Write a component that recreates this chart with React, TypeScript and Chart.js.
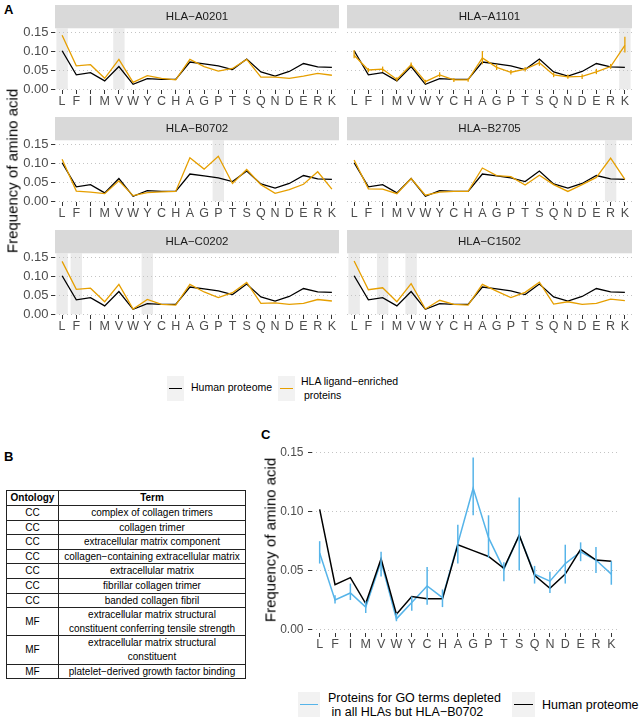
import React, { useEffect, useRef } from "react";
import { Chart, registerables } from "chart.js";

Chart.register(...registerables);

const FONT = "'Liberation Sans', Arial, Helvetica, sans-serif";
Chart.defaults.font.family = FONT;

// ---------- DATA ----------
const aminoAcids = ["L", "F", "I", "M", "V", "W", "Y", "C", "H", "A", "G", "P", "T", "S", "Q", "N", "D", "E", "R", "K"];
const yTickValues = [0, 0.05, 0.1, 0.15];

const humanProteome = [0.102, 0.038, 0.044, 0.022, 0.060, 0.013, 0.028, 0.026, 0.026, 0.072, 0.067, 0.062, 0.052, 0.080, 0.046, 0.035, 0.047, 0.068, 0.059, 0.058];

const alleleNames = ["HLA−A0201", "HLA−A1101", "HLA−B0702", "HLA−B2705", "HLA−C0202", "HLA−C1502"];

const enrichedA0201 = [0.143, 0.062, 0.065, 0.029, 0.079, 0.018, 0.036, 0.029, 0.025, 0.079, 0.060, 0.048, 0.055, 0.079, 0.032, 0.032, 0.029, 0.035, 0.042, 0.037];
const enrichedA1101 = [0.090, 0.051, 0.053, 0.026, 0.065, 0.020, 0.038, 0.025, 0.025, 0.083, 0.058, 0.045, 0.053, 0.070, 0.038, 0.033, 0.034, 0.046, 0.060, 0.116];
const enrichedA1101Low = [0.082, 0.045, 0.046, 0.021, 0.060, 0.015, 0.032, 0.019, 0.020, 0.066, 0.051, 0.039, 0.047, 0.062, 0.032, 0.028, 0.027, 0.040, 0.054, 0.097];
const enrichedA1101High = [0.103, 0.056, 0.060, 0.032, 0.071, 0.025, 0.045, 0.030, 0.029, 0.101, 0.066, 0.051, 0.059, 0.077, 0.044, 0.039, 0.040, 0.054, 0.067, 0.139];
const enrichedB0702 = [0.111, 0.027, 0.024, 0.020, 0.054, 0.015, 0.023, 0.025, 0.026, 0.115, 0.085, 0.119, 0.047, 0.084, 0.044, 0.021, 0.031, 0.045, 0.078, 0.032];
const enrichedB2705 = [0.109, 0.033, 0.032, 0.020, 0.060, 0.016, 0.024, 0.026, 0.026, 0.088, 0.068, 0.065, 0.043, 0.069, 0.044, 0.026, 0.044, 0.063, 0.114, 0.058];
const enrichedC0202 = [0.140, 0.066, 0.069, 0.033, 0.079, 0.014, 0.039, 0.026, 0.024, 0.079, 0.059, 0.044, 0.057, 0.084, 0.029, 0.030, 0.026, 0.029, 0.039, 0.035];
const enrichedC1502 = [0.141, 0.065, 0.070, 0.033, 0.081, 0.014, 0.037, 0.026, 0.024, 0.079, 0.061, 0.044, 0.058, 0.085, 0.027, 0.033, 0.026, 0.029, 0.040, 0.036];

const highlightA0201 = ["L", "V"];
const highlightA1101 = ["K"];
const highlightB0702 = ["P"];
const highlightB2705 = ["R"];
const highlightC0202 = ["L", "F", "Y"];
const highlightC1502 = ["L", "I", "V"];

const goDepleted = [0.065, 0.025, 0.031, 0.019, 0.058, 0.009, 0.023, 0.037, 0.027, 0.073, 0.120, 0.078, 0.051, 0.080, 0.047, 0.041, 0.056, 0.066, 0.059, 0.047];
const goDepletedLow = [0.056, 0.022, 0.025, 0.014, 0.045, 0.007, 0.016, 0.021, 0.019, 0.056, 0.097, 0.061, 0.041, 0.050, 0.039, 0.031, 0.039, 0.058, 0.048, 0.038];
const goDepletedHigh = [0.075, 0.029, 0.039, 0.024, 0.066, 0.014, 0.028, 0.053, 0.034, 0.089, 0.146, 0.097, 0.057, 0.112, 0.054, 0.049, 0.072, 0.074, 0.070, 0.058];

const tableOntology = ["CC", "CC", "CC", "CC", "CC", "CC", "CC", "MF", "MF", "MF"];
const tableTerms = [
  "complex of collagen trimers",
  "collagen trimer",
  "extracellular matrix component",
  "collagen−containing extracellular matrix",
  "extracellular matrix",
  "fibrillar collagen trimer",
  "banded collagen fibril",
  "extracellular matrix structural\nconstituent conferring tensile strength",
  "extracellular matrix structural\nconstituent",
  "platelet−derived growth factor binding",
];

// ---------- STYLE ----------
const ORANGE = "#E69F00";
const BLUE = "#56B4E9";
const STRIP_H = 23.3;

function bandPlugin(bands: string[]) {
  return {
    id: "bands",
    beforeDraw(chart: any) {
      const { ctx, chartArea, scales } = chart;
      const xs = scales.x;
      const ys = scales.y;
      const w = (xs.getPixelForValue(1) - xs.getPixelForValue(0)) * 0.8;
      const bottom = ys.getPixelForValue(0);
      ctx.save();
      ctx.fillStyle = "#EBEBEB";
      bands.forEach((b) => {
        const i = aminoAcids.indexOf(b);
        const cx = xs.getPixelForValue(i);
        ctx.fillRect(cx - w / 2, chartArea.top, w, bottom - chartArea.top);
      });
      ctx.restore();
    },
  };
}

function stripPlugin(label: string) {
  return {
    id: "strip",
    beforeDraw(chart: any) {
      const { ctx, chartArea } = chart;
      ctx.save();
      ctx.fillStyle = "#D9D9D9";
      ctx.fillRect(chartArea.left, chartArea.top - STRIP_H, chartArea.right - chartArea.left, STRIP_H);
      ctx.fillStyle = "#1A1A1A";
      ctx.font = `11.5px ${FONT}`;
      ctx.textAlign = "center";
      ctx.textBaseline = "middle";
      ctx.fillText(label, (chartArea.left + chartArea.right) / 2, chartArea.top - STRIP_H / 2 + 0.5);
      ctx.restore();
    },
  };
}

function errorBarPlugin(low: number[] | null, high: number[] | null, color: string, width: number) {
  return {
    id: "errbars",
    afterDatasetsDraw(chart: any) {
      if (!low || !high) return;
      const { ctx, scales } = chart;
      ctx.save();
      ctx.strokeStyle = color;
      ctx.lineWidth = width;
      low.forEach((lo, i) => {
        const x = scales.x.getPixelForValue(i);
        ctx.beginPath();
        ctx.moveTo(x, scales.y.getPixelForValue(lo));
        ctx.lineTo(x, scales.y.getPixelForValue(high[i]));
        ctx.stroke();
      });
      ctx.restore();
    },
  };
}

function baseScales(opts: {
  yMin: number; yMax: number; yWidth: number; showY: boolean; xHeight: number;
  yFont: number; yPad: number;
}) {
  return {
    x: {
      type: "category",
      offset: true,
      grid: { display: true, drawOnChartArea: false, drawTicks: true, tickLength: 4, tickColor: "#333333", tickWidth: 1 },
      border: { display: false },
      ticks: { color: "#4D4D4D", font: { size: 12.5 }, padding: 0, maxRotation: 0, minRotation: 0, autoSkip: false },
      afterFit: (s: any) => { s.height = opts.xHeight; s.paddingLeft = 0; s.paddingRight = 0; },
    },
    y: {
      type: "linear",
      min: opts.yMin,
      max: opts.yMax,
      grid: { color: "#C4C4C4", lineWidth: 1, drawTicks: opts.showY, tickLength: 4, tickColor: "#333333", tickWidth: 1, tickBorderDash: [] },
      border: { display: false, dash: [1, 3] },
      ticks: { display: opts.showY, color: "#4D4D4D", font: { size: opts.yFont }, padding: opts.yPad, callback: (v: any) => Number(v).toFixed(2) },
      afterBuildTicks: (s: any) => { s.ticks = yTickValues.map((v) => ({ value: v })); },
      afterFit: (s: any) => { s.width = opts.yWidth; s.paddingTop = 0; s.paddingBottom = 0; },
    },
  };
}

function facetConfig(label: string, series: number[], bands: string[], showY: boolean, low: number[] | null, high: number[] | null) {
  return {
    type: "line",
    data: {
      labels: aminoAcids,
      datasets: [
        { label: "HLA ligand-enriched proteins", data: series, borderColor: ORANGE, borderWidth: 1.3, pointRadius: 0, tension: 0, fill: false },
        { label: "Human proteome", data: humanProteome, borderColor: "#000000", borderWidth: 1.3, pointRadius: 0, tension: 0, fill: false },
      ],
    },
    options: {
      animation: false,
      responsive: false,
      events: [],
      layout: { padding: { top: STRIP_H, right: 1, left: 0, bottom: 0 } },
      plugins: { legend: { display: false }, tooltip: { enabled: false }, title: { display: false } },
      scales: baseScales({ yMin: -0.002, yMax: 0.1613, yWidth: showY ? 55 : 0, showY, xHeight: 22, yFont: 13, yPad: 2.5 }),
    },
    plugins: [bandPlugin(bands), stripPlugin(label), errorBarPlugin(low, high, ORANGE, 1.3)],
  };
}

function cConfig() {
  return {
    type: "line",
    data: {
      labels: aminoAcids,
      datasets: [
        { label: "Human proteome", data: humanProteome, borderColor: "#000000", borderWidth: 1.5, pointRadius: 0, tension: 0, fill: false },
        { label: "Proteins for GO terms depleted in all HLAs but HLA−B0702", data: goDepleted, borderColor: BLUE, borderWidth: 1.5, pointRadius: 0, tension: 0, fill: false },
      ],
    },
    options: {
      animation: false,
      responsive: false,
      events: [],
      layout: { padding: { top: 7, right: 1, left: 0, bottom: 0 } },
      plugins: { legend: { display: false }, tooltip: { enabled: false }, title: { display: false } },
      scales: baseScales({ yMin: -0.003, yMax: 0.155, yWidth: 50, showY: true, xHeight: 22, yFont: 12, yPad: 4.5 }),
    },
    plugins: [errorBarPlugin(goDepletedLow, goDepletedHigh, BLUE, 1.5)],
  };
}

function ChartCanvas(props: { left: number; top: number; width: number; height: number; build: () => any }) {
  const ref = useRef<HTMLCanvasElement>(null);
  useEffect(() => {
    const chart = new Chart(ref.current as HTMLCanvasElement, props.build());
    return () => chart.destroy();
  }, []);
  return (
    <canvas
      ref={ref}
      width={props.width}
      height={props.height}
      style={{ position: "absolute", left: props.left, top: props.top, width: props.width, height: props.height }}
    />
  );
}

function LegendKey(props: { left: number; top: number; width: number; color: string }) {
  return (
    <div style={{ position: "absolute", left: props.left, top: props.top, width: props.width, height: 25, background: "#F2F2F2" }}>
      <div style={{ position: "absolute", left: 2, right: 2, top: 11.5, height: 1.6, background: props.color }} />
    </div>
  );
}

const facetSeries = [enrichedA0201, enrichedA1101, enrichedB0702, enrichedB2705, enrichedC0202, enrichedC1502];
const facetHighlights = [highlightA0201, highlightA1101, highlightB0702, highlightB2705, highlightC0202, highlightC1502];
const facetLow = [null, enrichedA1101Low, null, null, null, null];
const facetHigh = [null, enrichedA1101High, null, null, null, null];
const rowTops = [5, 117.3, 230];

export default function App() {
  const text = { fontFamily: FONT, position: "absolute" as const, whiteSpace: "pre" as const, lineHeight: 1 };
  return (
    <div style={{ position: "absolute", left: 0, top: 0, width: 642, height: 719, overflow: "hidden", background: "#FFFFFF", fontFamily: FONT }}>
      {/* Panel labels */}
      <div style={{ ...text, left: 4, top: 3, fontSize: 13, fontWeight: "bold" }}>A</div>
      <div style={{ ...text, left: 4, top: 450, fontSize: 13, fontWeight: "bold" }}>B</div>
      <div style={{ ...text, left: 261, top: 428, fontSize: 13, fontWeight: "bold" }}>C</div>

      {/* Panel A facets */}
      {alleleNames.map((name, i) => {
        const col = i % 2;
        const row = Math.floor(i / 2);
        const left = col === 0 ? 0 : 347;
        const width = col === 0 ? 340 : 286;
        return (
          <ChartCanvas
            key={name}
            left={left}
            top={rowTops[row]}
            width={width}
            height={107}
            build={() => facetConfig(name, facetSeries[i], facetHighlights[i], col === 0, facetLow[i], facetHigh[i])}
          />
        );
      })}
      <div style={{ ...text, left: 12, top: 171, fontSize: 15, color: "#000", transform: "translate(-50%, -50%) rotate(-90deg)" }}>
        Frequency of amino acid
      </div>

      {/* Panel A legend */}
      <LegendKey left={167} top={376} width={17} color="#000000" />
      <div style={{ ...text, left: 191, top: 382, fontSize: 10.5, color: "#000" }}>Human proteome</div>
      <LegendKey left={278} top={376} width={17} color={ORANGE} />
      <div style={{ ...text, left: 301, top: 374, fontSize: 10.5, lineHeight: "14px", color: "#000" }}>{"HLA ligand−enriched\n proteins"}</div>

      {/* Panel B table */}
      <table
        style={{
          position: "absolute", left: 6, top: 490, width: 239, borderCollapse: "collapse",
          fontFamily: FONT, fontSize: 10, color: "#000", tableLayout: "fixed",
        }}
      >
        <colgroup>
          <col style={{ width: 52 }} />
          <col style={{ width: 187 }} />
        </colgroup>
        <thead>
          <tr>
            <th style={{ border: "1px solid #222", padding: 0, lineHeight: "14px", fontWeight: "bold" }}>Ontology</th>
            <th style={{ border: "1px solid #222", padding: 0, lineHeight: "14px", fontWeight: "bold" }}>Term</th>
          </tr>
        </thead>
        <tbody>
          {tableTerms.map((term, i) => (
            <tr key={i}>
              <td style={{ border: "1px solid #222", padding: 0, lineHeight: "13.6px", textAlign: "center", verticalAlign: "middle" }}>{tableOntology[i]}</td>
              <td style={{ border: "1px solid #222", padding: 0, lineHeight: "13.6px", textAlign: "center", whiteSpace: "pre-line" }}>{term}</td>
            </tr>
          ))}
        </tbody>
      </table>

      {/* Panel C */}
      <ChartCanvas left={262} top={440} width={358} height={215} build={cConfig} />
      <div style={{ ...text, left: 270, top: 540, fontSize: 15, color: "#000", transform: "translate(-50%, -50%) rotate(-90deg)" }}>
        Frequency of amino acid
      </div>

      {/* Panel C legend */}
      <LegendKey left={298} top={692} width={22} color={BLUE} />
      <div style={{ ...text, left: 328, top: 691, fontSize: 12.5, lineHeight: "14px", color: "#000" }}>{"Proteins for GO terms depleted\n in all HLAs but HLA−B0702"}</div>
      <LegendKey left={512} top={692} width={23} color="#000000" />
      <div style={{ ...text, left: 542, top: 698.5, fontSize: 12.5, color: "#000" }}>Human proteome</div>
    </div>
  );
}
